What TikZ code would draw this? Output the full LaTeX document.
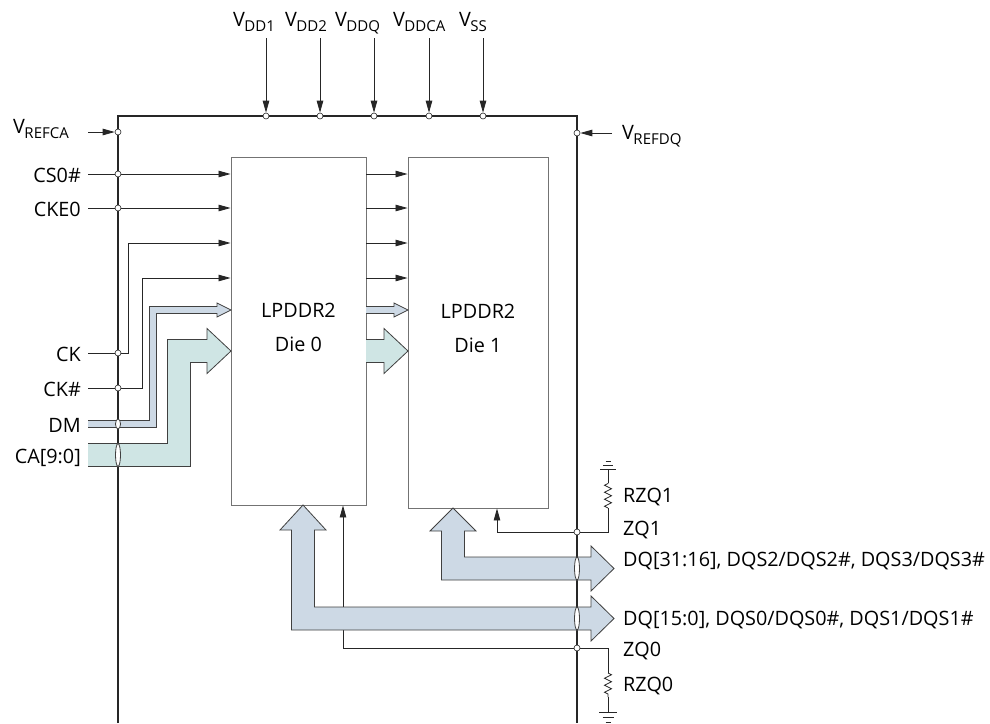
\documentclass[tikz,border=0pt]{standalone}
\usepackage{fontspec}
\setmainfont{Open Sans}
\usetikzlibrary{arrows.meta,decorations.pathmorphing}
\definecolor{bandblue}{HTML}{CDD9E5}
\definecolor{bandteal}{HTML}{CFE5E4}
\newcommand\Vsub[1]{V\kern-0.5pt\raisebox{-0.3em}{\fontsize{15}{16}\selectfont #1}}

\begin{document}
\begin{tikzpicture}[x=1pt,y=-1pt,
  font=\fontsize{19.8}{23}\selectfont,
  >={Triangle[length=12pt,width=6.5pt]},
  wire/.style={draw=black!85,line width=0.8pt},
  dot/.style={circle,draw=black!85,fill=white,line width=0.6pt,inner sep=0pt,minimum size=6pt},
  die/.style={draw=black!55,line width=0.9pt,align=center,text depth=8pt},
  band/.style={draw=black!75,line width=0.8pt},
  lbl/.style={inner sep=0pt,text=black},
  res/.style={wire,decorate,decoration={zigzag,segment length=7pt,amplitude=3.5pt}}]
  \useasboundingbox (0,0) rectangle (990,723);

  % package outline
  \draw[line width=1.1pt,black!85] (118,723) -- (118,116) -- (577,116) -- (577,723);

  % the two dies
  \node[die,minimum width=135pt,minimum height=348pt] (die0) at (298.5,331) {LPDDR2\\[11pt]Die 0};
  \node[die,minimum width=140pt,minimum height=351pt] (die1) at (478,332.5) {LPDDR2\\[11pt]Die 1};

  % supplies
  \foreach \x/\l/\s [count=\i] in {266/233/DD1, 320/285/DD2, 374/335/DDQ, 429/393/DDCA, 483/459/SS} {
    \node[lbl,anchor=base west] (v\i) at (\l,26) {\Vsub{\s}};
    \coordinate (t\i) at (\x,38);
    \node[dot] (p\i) at (\x,116) {};
    \draw[wire,->] (t\i) -- (p\i.north);
  }
  \node[lbl,anchor=base west] (vrefca) at (13,133) {\Vsub{REFCA}};
  \coordinate (rca) at (88,132);
  \node[lbl,anchor=base west] (vrefdq) at (622,139) {\Vsub{REFDQ}};
  \coordinate (rdq) at (612,133);

  % control inputs
  \foreach \y/\n/\t in {174/cs/CS0\#, 208/cke/CKE0, 353/ck/CK, 388/ckn/CK\#, 424/dm/DM, 455/ca/CA[9:0]} {
    \coordinate (\n) at (88,\y);
    \node[lbl,anchor=base east] (l\n) at (81,\y+8) {\t};
  }
  \draw[wire,->] (cs) -- (die0.west |- cs);
  \draw[wire,->] (cke) -- (die0.west |- cke);
  \draw[wire,->] (ck) -- (128,353) -- (128,243) -- (die0.west |- 0,243);
  \draw[wire,->] (ckn) -- (142,388) -- (142,278) -- (die0.west |- 0,278);
  \foreach \y in {174,208,243,278}
    \draw[wire,->] (die0.east |- 0,\y) -- (die1.west |- 0,\y);

  % DM and CA buses
  \filldraw[band,fill=bandblue] (88,427.5) -- (156.5,427.5) -- (156.5,313.5) -- (217,313.5) -- (217,317)
    -- (231,310) -- (217,303) -- (217,306.5) -- (149.5,306.5) -- (149.5,420.5) -- (88,420.5);
  \filldraw[band,fill=bandteal] (88,466.5) -- (190.5,466.5) -- (190.5,362.5) -- (207,362.5) -- (207,373.5)
    -- (231,351) -- (207,328.5) -- (207,339.5) -- (167.5,339.5) -- (167.5,443.5) -- (88,443.5);
  \filldraw[band,fill=bandblue] (366,306.5) -- (394,306.5) -- (394,303) -- (408,310) -- (394,317)
    -- (394,313.5) -- (366,313.5);
  \filldraw[band,fill=bandteal] (366,339.5) -- (384,339.5) -- (384,328.5) -- (408,351) -- (384,373.5)
    -- (384,362.5) -- (366,362.5);

  % ZQ calibration
  \node[dot] (zq1) at (577,532) {};
  \node[dot] (zq0) at (577,648) {};
  \draw[wire,->] (zq1) -| (die1.south -| 497,0);
  \draw[wire,->] (zq0) -| (die0.south -| 343,0);
  \coordinate (r1b) at (608,508); \coordinate (r1t) at (608,483); \coordinate (g1) at (608,469);
  \coordinate (r0t) at (608,673); \coordinate (r0b) at (608,697); \coordinate (g0) at (608,712);
  \draw[wire] (zq1) -- (608,532) -- (r1b);
  \draw[res] (r1b) -- (r1t);
  \draw[wire] (r1t) -- (g1) (g1) ++(-8,0) -- ++(16,0) (g1) ++(-5,-4) -- ++(10,0) (g1) ++(-2.5,-8) -- ++(5,0);
  \draw[wire] (zq0) -- (608,648) -- (r0t);
  \draw[res] (r0t) -- (r0b);
  \draw[wire] (r0b) -- (g0) (g0) ++(-9,0) -- ++(18,0) (g0) ++(-5.5,5) -- ++(11,0) (g0) ++(-2.5,10) -- ++(5,0);

  % DQ buses
  \filldraw[band,fill=bandblue] (453,508) -- (476,531) -- (464.5,531) -- (464.5,557) -- (591,557) -- (591,546)
    -- (614,568.5) -- (591,591) -- (591,580) -- (441.5,580) -- (441.5,531) -- (430,531) -- cycle;
  \filldraw[band,fill=bandblue] (303,505) -- (326,530) -- (314.5,530) -- (314.5,607) -- (591,607) -- (591,596)
    -- (614,618.5) -- (591,641) -- (591,630) -- (291.5,630) -- (291.5,530) -- (280,530) -- cycle;

  % crossings
  \filldraw[band,fill=white] (118,424) ellipse [x radius=2.5, y radius=5];
  \filldraw[band,fill=white] (118,455) ellipse [x radius=2.5, y radius=11.5];
  \filldraw[band,fill=white] (577,568.5) ellipse [x radius=2.5, y radius=11.5];
  \filldraw[band,fill=white] (577,618.5) ellipse [x radius=2.5, y radius=11.5];

  % dots on the package edge
  \node[dot] (prca) at (118,132) {};
  \node[dot] (prdq) at (577,133) {};
  \draw[wire,->] (rca) -- (prca.west);
  \draw[wire,->] (rdq) -- (prdq.east);
  \foreach \n in {cs,cke,ck,ckn}
    \node[dot] (d\n) at (118,0 |- \n) {};

  % right side labels
  \node[lbl,anchor=base west] (lrzq1) at (623,502) {RZQ1};
  \node[lbl,anchor=base west] (lzq1) at (623,535) {ZQ1};
  \node[lbl,anchor=base west] (ldq1) at (623,566) {DQ[31:16], DQS2/DQS2\#, DQS3/DQS3\#};
  \node[lbl,anchor=base west] (ldq0) at (623,625) {DQ[15:0], DQS0/DQS0\#, DQS1/DQS1\#};
  \node[lbl,anchor=base west] (lzq0) at (623,656) {ZQ0};
  \node[lbl,anchor=base west] (lrzq0) at (623,691) {RZQ0};
\end{tikzpicture}
\end{document}
